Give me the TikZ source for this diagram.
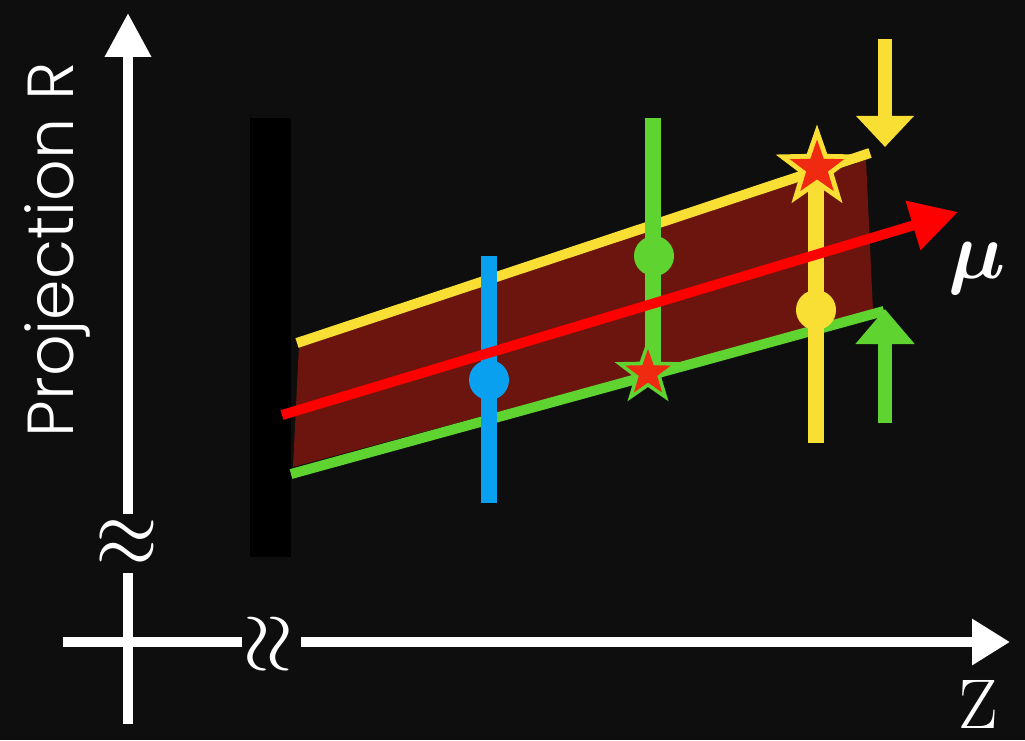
\RequirePackage{fix-cm}
\documentclass[tikz,border=0pt]{standalone}
\usepackage{fontspec}
\usepackage{amsmath}
\usepackage{bm}
\usetikzlibrary{arrows.meta,shapes.geometric}
\newfontfamily\projfont{Poppins}[UprightFont=* Light]
\definecolor{bgc}{HTML}{0E0E0E}
\definecolor{bandc}{HTML}{6B150E}
\definecolor{ylw}{HTML}{F9DF33}
\definecolor{grn}{HTML}{5FD330}
\definecolor{blu}{HTML}{09A0EF}
\definecolor{redc}{HTML}{FF0000}
\definecolor{starred}{HTML}{EF2A10}
\tikzset{
  axisline/.style={white, line width=2mm},
  axishead/.style={-{Triangle[length=8.8mm,width=8.8mm]}},
  bandline/.style={line width=2mm},
  errbar/.style={line width=3.2mm},
  dot/.style={circle, fill=#1, minimum size=8mm, inner sep=0pt},
  starbig/.style={star, star points=5, star point ratio=2.5, fill=#1, inner sep=0pt},
  brk/.style={text=white, font=\fontsize{46}{46}\selectfont, inner sep=0pt},
}
\begin{document}
\begin{tikzpicture}[x=0.2mm, y=-0.2mm]
\fill[bgc] (0,0) rectangle (1025,740);
\useasboundingbox (0,0) rectangle (1025,740);
% black bar
\fill[black] (250,118) rectangle (291,557);
% band
\fill[bandc] (299,345) -- (866,160) -- (873,311) -- (293,467) -- cycle;
\draw[ylw, bandline] (297,343) -- (870,153);
\draw[grn, bandline] (291,474) -- (884,311);
% error bars
\draw[blu, errbar] (489,256) -- (489,503);
\draw[grn, errbar] (653,118) -- (653,372);
\draw[ylw, errbar] (816,170) -- (816,443);
% mean arrow
\draw[redc, line width=2mm, -{Triangle[length=9.4mm,width=9.8mm]}] (282,415) -- (958,212);
% dots
\node[dot=blu] (bdot) at (489,380) {};
\node[dot=grn] (gdot) at (654,256) {};
\node[dot=ylw] (ydot) at (816,310) {};
% stars
\node[starbig=ylw, minimum size=17.4mm] (ystar) at (817,168) {};
\node[starbig=starred, minimum size=11.4mm] (ystarin) at (817,168) {};
\node[starbig=grn, minimum size=14mm] (gstar) at (648,373) {};
\node[starbig=starred, minimum size=9.6mm] (gstarin) at (648,373) {};
% side arrows
\draw[ylw, line width=2.8mm, -{Triangle[length=6.2mm,width=11.2mm]}] (885,39) -- (885,147);
\draw[grn, line width=2.8mm, -{Triangle[length=7mm,width=11.4mm]}] (885,423) -- (885,309);
% axes
\draw[axisline, axishead] (128,514) -- (128,13);
\draw[axisline] (128,573) -- (128,724);
\draw[axisline] (63,642) -- (242,642);
\draw[axisline, -{Triangle[length=7.6mm,width=8.8mm]}] (301,642) -- (1010,642);
\node[brk, yscale=1.2] (brkv) at (127,544) {$\approx$};
\node[brk, rotate=90, yscale=1.2] (brkh) at (271,644) {$\approx$};
% labels
\node[rotate=90, anchor=base, text=white, inner sep=0pt, font=\projfont\fontsize{37}{37}\selectfont] (ylab) at (73,250) {Projection R};
\node[anchor=base, text=white, inner sep=0pt, font=\fontsize{40}{40}\selectfont] (zlab) at (978,728) {Z};
\node[text=white, inner sep=0pt, font=\fontsize{46}{46}\selectfont] (mulab) at (977,268) {$\bm{\mu}$};
\end{tikzpicture}
\end{document}
